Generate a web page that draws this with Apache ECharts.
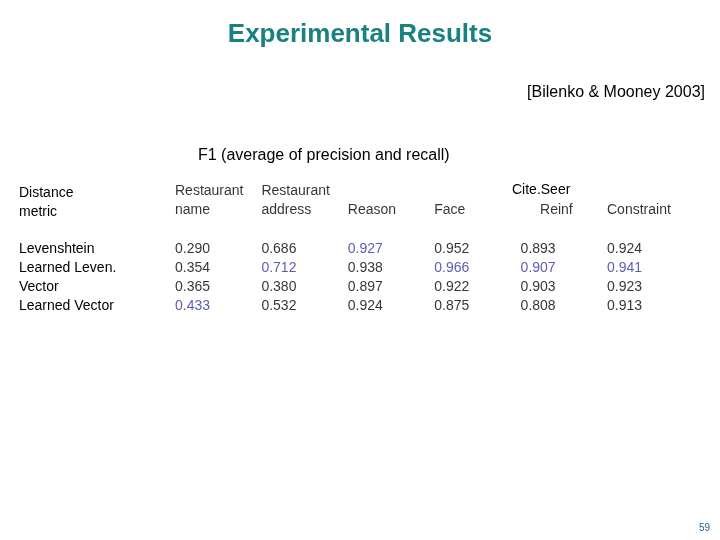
<!DOCTYPE html><html><head><meta charset="utf-8">
<script src="https://cdn.jsdelivr.net/npm/echarts@6/dist/echarts.min.js"></script>
<style>body{margin:0}#c{width:720px;height:540px}</style></head><body><div id="c"></div>
<script>
const columns=['Restaurant\nname','Restaurant\naddress','\nReason','\nFace','\n     Reinf','\nConstraint'];
const rows=['Levenshtein','Learned Leven.','Vector','Learned Vector'];
const values=[
 [0.290,0.686,0.927,0.952,0.893,0.924],
 [0.354,0.712,0.938,0.966,0.907,0.941],
 [0.365,0.380,0.897,0.922,0.903,0.923],
 [0.433,0.532,0.924,0.875,0.808,0.913]];
const best=[[3,0],[1,1],[0,2],[1,3],[1,4],[1,5]];
const F='"Liberation Sans", Arial, sans-serif';
const yCats=['','','',...rows];
const data=[];
columns.forEach((c,j)=>data.push({value:[j,0],label:{formatter:c,color:'#000',offset:[0,9]}}));
values.forEach((r,i)=>r.forEach((v,j)=>{
  const hl=best.some(b=>b[0]===i&&b[1]===j);
  data.push({value:[j,i+3],label:{formatter:v.toFixed(3),color:hl?'#3333a0':'#000'}});
}));
const ch=echarts.init(document.getElementById('c'));
ch.setOption({
 animation:false,
 grid:{left:175,right:113,top:192,bottom:234},
 xAxis:{type:'category',data:columns,boundaryGap:false,show:false},
 yAxis:{type:'category',data:yCats,inverse:true,boundaryGap:false,axisLine:{show:false},axisTick:{show:false},splitLine:{show:false},
  axisLabel:{align:'left',margin:156,fontFamily:F,fontSize:14,color:'#000'}},
 series:[{type:'scatter',symbolSize:0,data:data,
  label:{show:true,position:'inside',align:'left',fontFamily:F,fontSize:14,lineHeight:19,color:'#000'}}],
 graphic:[
  {type:'text',left:'center',top:22,style:{text:'Experimental Results',font:'bold 26px '+F,fill:'#1a8080'}},
  {type:'text',right:15,top:85,style:{text:'[Bilenko & Mooney 2003]',font:'16px '+F,fill:'#000'}},
  {type:'text',left:198,top:148,style:{text:'F1 (average of precision and recall)',font:'16px '+F,fill:'#000'}},
  {type:'text',left:19,top:184,style:{text:'Distance\nmetric',font:'14px '+F,fill:'#000',lineHeight:19}},
  {type:'text',left:512,top:183,style:{text:'Cite.Seer',font:'14px '+F,fill:'#000'}},
  {type:'text',right:10,top:523,style:{text:'59',font:'10px '+F,fill:'#1a5fa0'}}
 ]
});
</script></body></html>
